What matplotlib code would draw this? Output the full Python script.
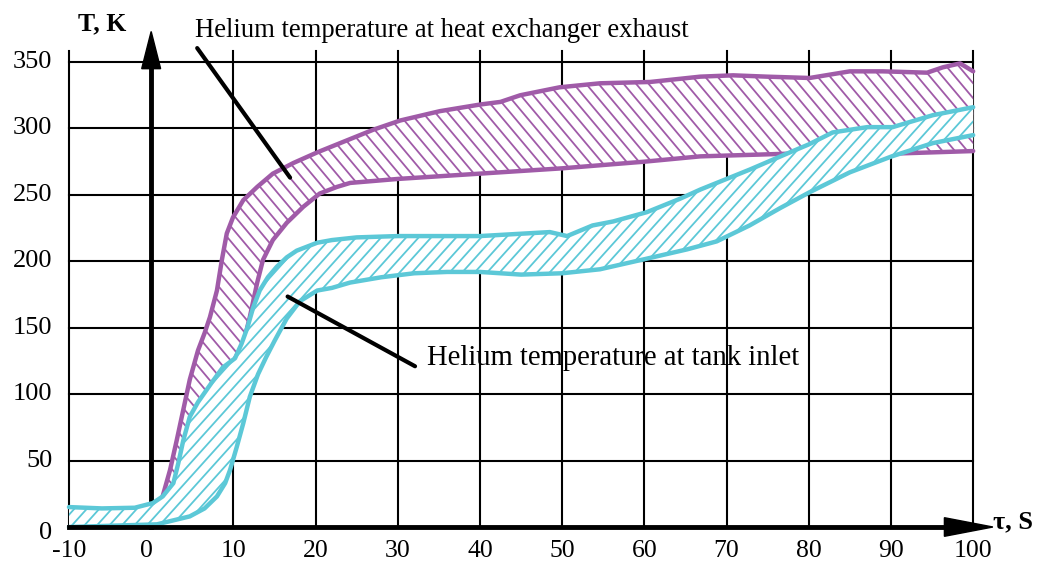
"""
Helium temperature bands: heat exchanger exhaust vs tank inlet.
"""
import matplotlib
matplotlib.use('Agg')
import matplotlib.pyplot as plt
from matplotlib.patches import Polygon
from matplotlib.collections import LineCollection
import numpy as np

plt.rcParams['font.family'] = ['Liberation Serif', 'DejaVu Serif']

PURPLE = '#A05BA8'
CYAN = '#5CC8D7'

# ---- data (time, s / temperature, K) ----
x_ticks = list(range(-10, 101, 10))
y_ticks = list(range(0, 351, 50))

# heat exchanger exhaust, upper edge
pu_t = [1.3, 2.3, 3.1, 3.9, 4.7, 5.7, 6.5, 7.15, 8.0, 8.6, 9.2, 9.95, 11.2,
        12.9, 14.8, 17.3, 20.2, 22.6, 24.2, 27, 30.3, 35.1, 40, 42.5, 44.9,
        49.7, 54.6, 60.7, 66.8, 70.8, 74.9, 80.1, 85, 89, 94.4, 96.3, 98.4, 100]
pu_T = [21, 43, 65, 88, 111, 133, 146, 158, 178, 201, 221, 233, 246, 256, 266,
        274, 282, 288, 292, 299, 306, 313, 318, 320, 325, 331, 334, 335, 339,
        340, 339, 338, 343, 343, 342, 346, 349, 343]
# heat exchanger exhaust, lower edge (below t=10 it runs along the inlet band)
pl_t = [10.2, 11.2, 12, 12.9, 13.6, 14.8, 16.5, 18.5, 20.5, 22.6, 24.2, 30, 35,
        40, 50, 60, 66.8, 77.5, 90, 100]
pl_T = [127, 138, 158, 184, 201, 216, 229, 241, 251, 256, 259, 262, 264, 266,
        270, 275, 279, 281, 281, 283]

# tank inlet, upper edge
cu_t = [-10, -6, -2, 0.2, 1.4, 2.7, 3.3, 3.9, 4.7, 5.7, 7.4, 8.7, 10.2, 11,
        11.7, 12.4, 13.2, 14.2, 15.3, 16.5, 17.7, 20.2, 22, 25, 30, 40, 48.5,
        50.6, 53.7, 56.2, 60.3, 64.3, 66.8, 70, 72.8, 77.7, 80, 82.9, 87.1,
        90.2, 95.1, 100]
cu_T = [15, 14, 14.5, 18, 23, 33, 48, 65, 83, 94, 109, 120, 127, 138, 150, 165,
        178, 188, 196, 203, 208, 214, 216, 218, 219, 219, 222, 219, 227, 230,
        237, 247, 254, 262, 269, 282, 288, 297, 301, 301, 310, 316]
# tank inlet, lower edge
cl_t = [-10, 0.7, 4.7, 6.5, 8, 9, 9.6, 10.4, 11.2, 12, 13, 14, 15, 15.7, 16.5,
        18.1, 20.2, 22, 24.2, 28, 32, 36, 40, 45, 50, 54.6, 60.3, 65.2, 68.8,
        72.8, 76.5, 80.1, 85, 90.1, 95.1, 100]
cl_T = [0, 2, 8, 14, 23, 33, 43, 60, 78, 98, 115, 128, 140, 148, 157, 170, 178,
        180, 184, 188, 191, 192, 192, 190, 191, 194, 202, 209, 215, 227, 240,
        252, 267, 279, 289, 295]

XL = (-18.39, 108.13)
YL = (-28.6, 396.7)

fig = plt.figure(figsize=(10.4, 5.65), dpi=100)
ax = fig.add_axes([0, 0, 1, 1])
ax.set_xlim(*XL); ax.set_ylim(*YL); ax.axis('off')

# px per data unit (for hatch angles)
sx = 1040 / (XL[1] - XL[0])
sy = 565 / (YL[1] - YL[0])

# grid
for t in x_ticks:
    ax.plot([t, t], [0, 358], color='black', lw=1.5, zorder=1)
for T in y_ticks[1:]:
    ax.plot([-10, 100], [T, T], color='black', lw=1.5, zorder=1)


def hatch_band(xs, ys, color, angle, step_px, z):
    poly = Polygon(np.column_stack([xs, ys]), closed=True, facecolor='white',
                   edgecolor='none', zorder=z)
    ax.add_patch(poly)
    m = np.tan(np.radians(angle)) * sx / sy      # data slope
    step = step_px / sx
    segs = []
    for c in np.arange(-60, 170, step):
        y0, y1 = -50, 450
        segs.append([(c + y0 / m, y0), (c + y1 / m, y1)])
    lc = LineCollection(segs, colors=color, linewidths=1.3, zorder=z + 0.1)
    ax.add_collection(lc)
    lc.set_clip_path(poly)


def edge(t, T, color, z):
    ax.plot(t, T, color=color, lw=3.2, solid_capstyle='round',
            solid_joinstyle='round', zorder=z)


# purple band
cu_t_a = np.array(cu_t); cu_T_a = np.array(cu_T)
early = (cu_t_a > 1.3) & (cu_t_a < 10.2)
px = np.r_[pu_t, pl_t[::-1], cu_t_a[early][::-1]]
py = np.r_[pu_T, pl_T[::-1], cu_T_a[early][::-1]]
hatch_band(px, py, PURPLE, -50, 12.5, 2)
edge(pu_t, pu_T, PURPLE, 2.5)
edge(pl_t, pl_T, PURPLE, 2.5)

# cyan band
cx = np.r_[cu_t, cl_t[::-1]]
cy = np.r_[cu_T, cl_T[::-1]]
hatch_band(cx, cy, CYAN, 48, 12.5, 3)
edge(cu_t, cu_T, CYAN, 3.5)
edge(cl_t, cl_T, CYAN, 3.5)

# axes with arrows
ax.plot([0, 0], [0, 350], color='black', lw=3.5, zorder=1.5)
ax.fill([-1.15, 1.15, 0], [345, 345, 373], color='black', zorder=1.5)
ax.plot([-10, 97], [0, 0], color='black', lw=3.5, zorder=6)
ax.fill([96.5, 96.5, 102.4], [-7, 7, 0], color='black', zorder=6)

# tick labels
for T in y_ticks:
    ax.text(-12.0, T - (4.5 if T == 0 else 0), str(T), ha='right',
            va='center', fontsize=19, zorder=7)
for t in x_ticks:
    ax.text(t - (0.6 if t == 0 else 0), -18.3, str(t), ha='center',
            va='center', fontsize=18.5, zorder=7)

ax.text(-8.9, 378.5, 'T, K', ha='left', va='center', fontsize=18.5,
        fontweight='bold')
ax.text(102.4, 4, 'τ, S', ha='left', va='center', fontsize=19,
        fontweight='bold')

# annotations
ax.plot([5.6, 16.9], [360.5, 263], color='black', lw=3,
        solid_capstyle='round', zorder=7)
ax.text(5.3, 374, 'Helium temperature at heat exchanger exhaust', ha='left',
        va='center', fontsize=19.2, zorder=7)
ax.plot([16.6, 32.1], [173.5, 121], color='black', lw=3,
        solid_capstyle='round', zorder=7)
ax.text(33.5, 127, 'Helium temperature at tank inlet', ha='left',
        va='center', fontsize=20.6, zorder=7)

fig.savefig('out.png', dpi=100, facecolor='white')
